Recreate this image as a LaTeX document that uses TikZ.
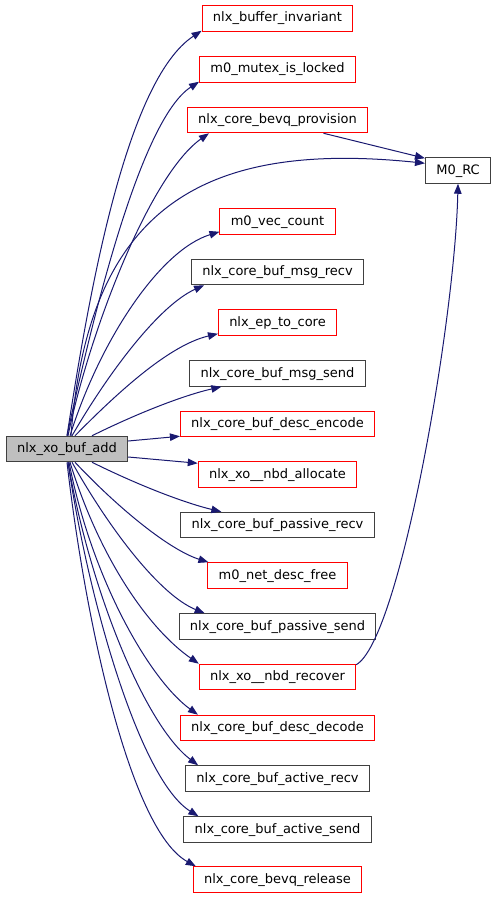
\documentclass[tikz,border=0pt]{standalone}
\usepackage{fontspec}
\setmainfont{DejaVu Sans}
\usetikzlibrary{arrows.meta}

\definecolor{edgeblue}{HTML}{191970}
\definecolor{fnred}{HTML}{FF0000}
\definecolor{fngray}{HTML}{404040}
\definecolor{fnfill}{HTML}{BFBFBF}

\tikzset{
  fnbox/.style={draw, line width=1pt, rectangle, inner xsep=10.8pt, inner ysep=0pt,
    minimum height=25.5pt, text height=9.5pt, text depth=2.5pt,
    font=\fontsize{13}{15}\selectfont},
  redfn/.style={fnbox, draw=fnred},
  plainfn/.style={fnbox, draw=fngray},
  rootfn/.style={fnbox, draw=fngray, fill=fnfill},
  callarrow/.style={edgeblue, line width=1pt,
    -{Triangle[length=10pt, width=7.5pt]}}
}

\begin{document}
\begin{tikzpicture}[x=1pt, y=-1pt]
\def\colx{277.5}
\useasboundingbox (0,0) rectangle (496,899);

% caller
\node[rootfn] (bufadd) at (67,449) {nlx\_xo\_buf\_add};

% callees
\node[redfn]   (bufinv)     at (\colx,18.5)  {nlx\_buffer\_invariant};
\node[redfn]   (mutex)      at (\colx,69.5)  {m0\_mutex\_is\_locked};
\node[redfn]   (bevqprov)   at (\colx,120)   {nlx\_core\_bevq\_provision};
\node[plainfn] (mrc)        at (458,170.5)   {M0\_RC};
\node[redfn]   (veccount)   at (\colx,221.5) {m0\_vec\_count};
\node[plainfn] (msgrecv)    at (\colx,272)   {nlx\_core\_buf\_msg\_recv};
\node[redfn]   (eptocore)   at (\colx,322.5) {nlx\_ep\_to\_core};
\node[plainfn] (msgsend)    at (\colx,373.5) {nlx\_core\_buf\_msg\_send};
\node[redfn]   (descenc)    at (\colx,424)   {nlx\_core\_buf\_desc\_encode};
\node[redfn]   (nbdalloc)   at (\colx,474.5) {nlx\_xo\_\_nbd\_allocate};
\node[plainfn] (passrecv)   at (\colx,525)   {nlx\_core\_buf\_passive\_recv};
\node[redfn]   (descfree)   at (\colx,575.5) {m0\_net\_desc\_free};
\node[plainfn] (passsend)   at (\colx,626.5) {nlx\_core\_buf\_passive\_send};
\node[redfn]   (nbdrecover) at (\colx,677)   {nlx\_xo\_\_nbd\_recover};
\node[redfn]   (descdec)    at (\colx,728)   {nlx\_core\_buf\_desc\_decode};
\node[plainfn] (actrecv)    at (\colx,778.5) {nlx\_core\_buf\_active\_recv};
\node[plainfn] (actsend)    at (\colx,829.5) {nlx\_core\_buf\_active\_send};
\node[redfn]   (bevqrel)    at (\colx,879.5) {nlx\_core\_bevq\_release};

% calls going up
\draw[callarrow] (bufadd.north) .. controls (88,300) and (125,81) .. ([yshift=1pt]bufinv.south west);
\draw[callarrow] (bufadd.north) .. controls (92,320) and (140,120) .. ([yshift=1pt]mutex.south west);
\draw[callarrow] ([xshift=1pt]bufadd.north) .. controls (90,330) and (150,175) .. ([xshift=22pt]bevqprov.south west);
\draw[callarrow] ([xshift=4pt]bufadd.north) .. controls (88,210) and (200,140) .. ([yshift=-6pt]mrc.north west);
\draw[callarrow] ([xshift=3pt]bufadd.north) .. controls (100,340) and (160,250) .. ([yshift=3pt]veccount.south west);
\draw[callarrow] ([xshift=5pt]bufadd.north) .. controls (110,370) and (160,305) .. ([xshift=13pt]msgrecv.south west);
\draw[callarrow] ([xshift=8pt]bufadd.north) .. controls (120,390) and (170,345) .. ([yshift=2pt]eptocore.south west);
\draw[callarrow] ([xshift=25pt]bufadd.north) .. controls (140,412) and (185,395) .. ([xshift=32pt]msgsend.south west);

% calls sideways
\draw[callarrow] ([yshift=8pt]bufadd.east) -- ([yshift=1pt]descenc.south west);
\draw[callarrow] ([yshift=-8pt]bufadd.east) -- ([yshift=-2pt]nbdalloc.north west);

% calls going down
\draw[callarrow] ([xshift=25pt]bufadd.south) .. controls (140,486) and (185,503) .. ([xshift=41pt]passrecv.north west);
\draw[callarrow] ([xshift=8pt]bufadd.south) .. controls (120,510) and (170,550) .. ([xshift=1pt]descfree.north west);
\draw[callarrow] ([xshift=5pt]bufadd.south) .. controls (110,530) and (160,595) .. ([xshift=26pt]passsend.north west);
\draw[callarrow] ([xshift=3pt]bufadd.south) .. controls (100,560) and (150,630) .. (nbdrecover.north west);
\draw[callarrow] ([xshift=2pt]bufadd.south) .. controls (92,580) and (150,680) .. ([xshift=18pt]descdec.north west);
\draw[callarrow] ([xshift=1pt]bufadd.south) .. controls (90,590) and (145,725) .. ([xshift=13pt]actrecv.north west);
\draw[callarrow] ([xshift=1pt]bufadd.south) .. controls (88,600) and (140,780) .. ([xshift=15pt]actsend.north west);
\draw[callarrow] (bufadd.south) .. controls (85,620) and (130,830) .. ([xshift=3pt]bevqrel.north west);

% calls into M0_RC
\draw[callarrow] ([xshift=46pt]bevqprov.south) -- ([yshift=-1pt]mrc.north west);
\draw[callarrow] ([yshift=-1pt]nbdrecover.north east) .. controls (400,640) and (455,320) .. (mrc.south);
\end{tikzpicture}
\end{document}
